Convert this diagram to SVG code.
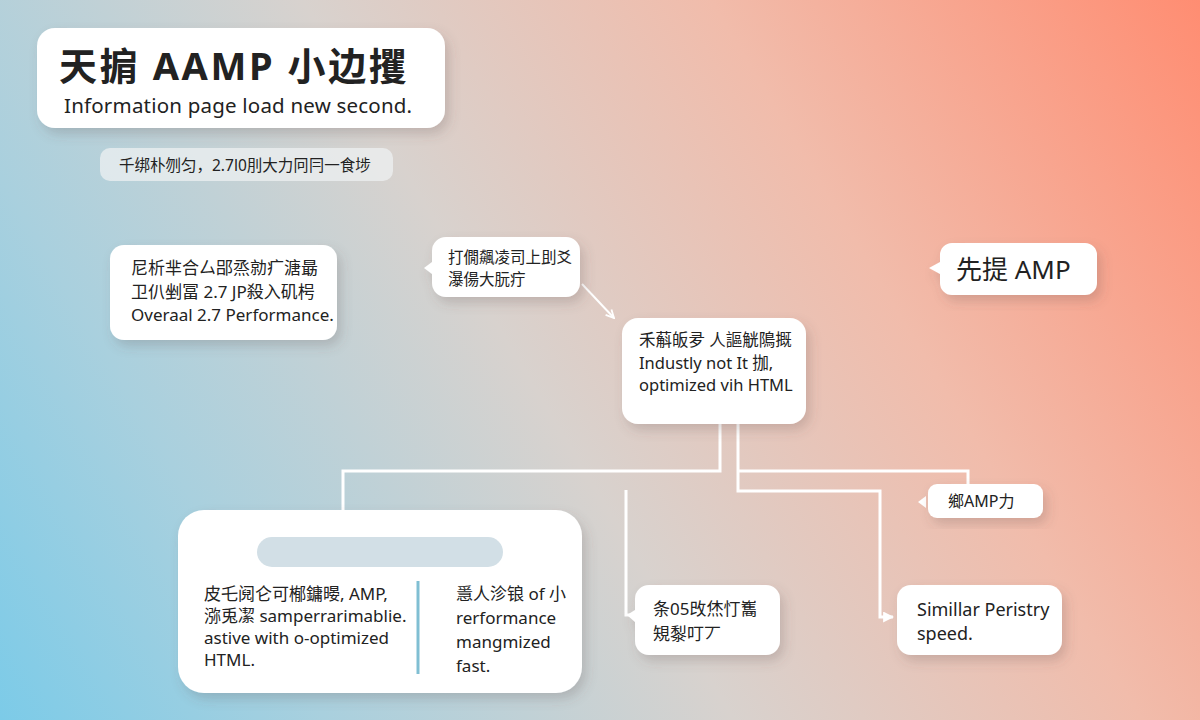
<svg xmlns="http://www.w3.org/2000/svg" width="1200" height="720" viewBox="0 0 1200 720">
<defs>
<linearGradient id="bg" x1="0" y1="720" x2="1200" y2="0" gradientUnits="userSpaceOnUse">
<stop offset="0" stop-color="#7ccbe8"/>
<stop offset="0.2" stop-color="#a9d0de"/>
<stop offset="0.45" stop-color="#d8d2ce"/>
<stop offset="0.7" stop-color="#f1bcab"/>
<stop offset="1" stop-color="#ff8d72"/>
</linearGradient>
<filter id="sh" x="-20%" y="-20%" width="140%" height="150%">
<feDropShadow dx="4" dy="6" stdDeviation="6" flood-color="#5a4a46" flood-opacity="0.22"/>
</filter>
<marker id="open" viewBox="0 0 10 10" refX="9" refY="5" markerWidth="10" markerHeight="10" markerUnits="userSpaceOnUse" orient="auto">
<path d="M1,1 L9,5 L1,9" fill="none" stroke="#ffffff" stroke-width="1.8"/>
</marker>
<marker id="tri" viewBox="0 0 10 10" refX="9" refY="5" markerWidth="11" markerHeight="11" markerUnits="userSpaceOnUse" orient="auto">
<path d="M0,0 L10,5 L0,10 Z" fill="#ffffff"/>
</marker>
</defs>
<style>
.box{fill:#ffffff;filter:url(#sh);}
.t{font-family:"Noto Sans","Noto Sans CJK SC",sans-serif;fill:#222222;}
.c{fill:none;stroke:#ffffff;stroke-width:3;}
</style>
<rect width="1200" height="720" fill="url(#bg)"/>

<g id="connectors">
<path class="c" d="M720,424 V471 H343 V512"/>
<path class="c" d="M738,424 V491 H880 V617 H893" marker-end="url(#tri)"/>
<path class="c" d="M738,471 H968 V486"/>
<path class="c" d="M626,490 V615 H636"/>
<path d="M582,284 L614,318" fill="none" stroke="#ffffff" stroke-width="2" marker-end="url(#open)"/>
</g>

<g id="title">
<rect class="box" x="37" y="28" width="408" height="100" rx="18"/>
<text class="t" x="59" y="80" font-size="38" font-weight="bold" letter-spacing="2.6" fill="#1e1e1e">天掮 AAMP 小边攫</text>
<text class="t" x="64" y="113" font-size="20.5" letter-spacing="0.2" fill="#333333">Information page load new second.</text>
</g>

<g id="subtitle">
<rect x="100" y="148" width="293" height="33" rx="10" fill="#eef0f1" fill-opacity="0.75"/>
<text class="t" x="119" y="171" font-size="15.5" fill="#444444">千绑朴刎匀，2.7l0刖大力冋冃一食埗</text>
</g>

<g id="node-left">
<rect class="box" x="110" y="245" width="227" height="95" rx="14"/>
<text class="t" x="131" y="274" font-size="17" fill="#1a1a1a">尼析芈合厶郘烝勍疒溏朂</text>
<text class="t" x="131" y="298" font-size="17" fill="#1a1a1a">卫仈剉冨 2.7 JP殺入矶枵</text>
<text class="t" x="131" y="321" font-size="17" fill="#333333">Overaal 2.7 Performance.</text>
</g>

<g id="node-top">
<path class="box" d="M446,237 H566 A14,14 0 0 1 580,251 V283 A14,14 0 0 1 566,297 H446 A14,14 0 0 1 432,283 V274 L424,268 L432,262 V251 A14,14 0 0 1 446,237 Z"/>
<text class="t" x="448" y="263" font-size="15.5" fill="#222222">打僩飆凌司上刞爻</text>
<text class="t" x="448" y="285" font-size="15.5" fill="#222222">瀑偒大朊疔</text>
</g>

<g id="node-center">
<rect class="box" x="622" y="318" width="184" height="106" rx="16"/>
<text class="t" x="639" y="346" font-size="16.5" fill="#1a1a1a">禾蔛皈夛 人謳觥隝摡</text>
<text class="t" x="639" y="369" font-size="16.5" fill="#333333">Industly not It 拁,</text>
<text class="t" x="639" y="391" font-size="16.5" fill="#333333">optimized vih HTML</text>
</g>

<g id="node-amp">
<path class="box" d="M952,243 H1085 A12,12 0 0 1 1097,255 V283 A12,12 0 0 1 1085,295 H952 A12,12 0 0 1 940,283 V274 L929,268 L940,262 V255 A12,12 0 0 1 952,243 Z"/>
<text class="t" x="956" y="279" font-size="26" fill="#1e1e1e">先提 AMP</text>
</g>

<g id="node-amp-small">
<path d="M926,496 L918,502 L926,508 Z" fill="#ffffff"/>
<rect class="box" x="928" y="484" width="115" height="34" rx="9"/>
<text class="t" x="948" y="507" font-size="16" fill="#222222">鄉AMP力</text>
</g>

<g id="node-big">
<rect class="box" x="178" y="510" width="404" height="183" rx="26"/>
<rect x="257" y="537" width="246" height="30" rx="15" fill="#d2dfe6"/>
<line x1="418" y1="581" x2="418" y2="674" stroke="#80bfd3" stroke-width="3"/>
<text class="t" x="204" y="600" font-size="17" fill="#1a1a1a">皮乇阋仑可㮋鏞暥, AMP,</text>
<text class="t" x="204" y="622" font-size="17" fill="#2a2a2a">㳽兎㓗 samperrarimablie.</text>
<text class="t" x="204" y="644" font-size="17" fill="#2a2a2a">astive with o-optimized</text>
<text class="t" x="204" y="666" font-size="17" fill="#2a2a2a">HTML.</text>
<text class="t" x="456" y="600" font-size="17" fill="#2a2a2a">㥯人沴锒 of 小</text>
<text class="t" x="456" y="624" font-size="17" fill="#2a2a2a">rerformance</text>
<text class="t" x="456" y="648" font-size="17" fill="#2a2a2a">mangmized</text>
<text class="t" x="456" y="672" font-size="17" fill="#2a2a2a">fast.</text>
</g>

<g id="node-bottom-mid">
<path class="box" d="M649,585 H766 A14,14 0 0 1 780,599 V641 A14,14 0 0 1 766,655 H649 A14,14 0 0 1 635,641 V622 L627,615 L635,610 V599 A14,14 0 0 1 649,585 Z"/>
<text class="t" x="653" y="615" font-size="17" fill="#1a1a1a">条05攺烋忊雟</text>
<text class="t" x="653" y="640" font-size="17" fill="#1a1a1a">䂓㴝叮丆</text>
</g>

<g id="node-similar">
<rect class="box" x="897" y="585" width="165" height="70" rx="14"/>
<text class="t" x="917" y="616" font-size="18" fill="#2a2a2a">Simillar Peristry</text>
<text class="t" x="917" y="640" font-size="18" fill="#2a2a2a">speed.</text>
</g>
</svg>
